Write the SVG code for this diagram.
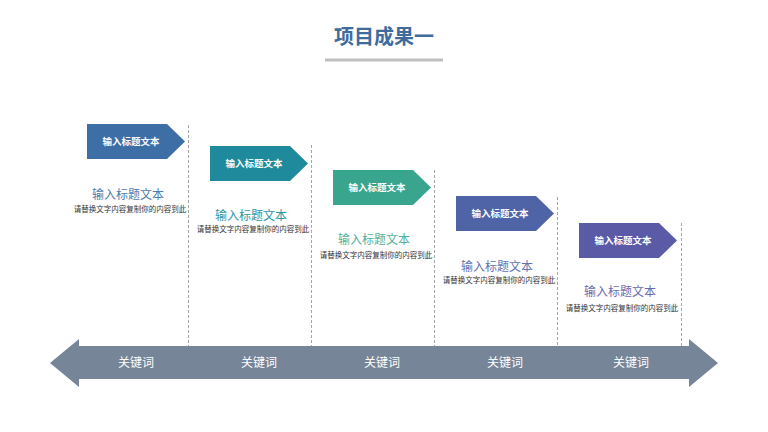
<svg xmlns="http://www.w3.org/2000/svg" width="768" height="432" viewBox="0 0 768 432">
<style>
text{font-family:"Noto Sans CJK SC","Noto Sans",sans-serif;text-anchor:middle}
.title{font-size:20px;font-weight:bold;fill:#3F6B9E}
.lbl{font-size:9.5px;font-weight:bold;fill:#fff}
.sub{font-size:12px}
.desc{font-size:7.5px;fill:#333}
.kw{font-size:12px;fill:#fff}
.dash{stroke:#A6A6A6;stroke-width:1;stroke-dasharray:3 2;fill:none}
</style>
<defs>
<polygon id="tag" points="0,0 80,0 98,17.5 80,35 0,35"/>
</defs>
<rect width="768" height="432" fill="#fff"/>
<g id="title">
<text class="title" x="384" y="44">项目成果一</text>
<rect x="325" y="58.5" width="118" height="3" fill="#BFBFBF"/>
</g>
<g id="connectors">
<line class="dash" x1="188.5" y1="125" x2="188.5" y2="346"/>
<line class="dash" x1="311.5" y1="145" x2="311.5" y2="346"/>
<line class="dash" x1="434.5" y1="170" x2="434.5" y2="346"/>
<line class="dash" x1="557.5" y1="197" x2="557.5" y2="346"/>
<line class="dash" x1="681.5" y1="223" x2="681.5" y2="346"/>
</g>
<g id="timeline">
<polygon points="50,363 79,339 79,346 689,346 689,339 718,363 689,387 689,379 79,379 79,387" fill="#768598"/>
<text class="kw" x="136" y="367">关键词</text>
<text class="kw" x="259" y="367">关键词</text>
<text class="kw" x="382" y="367">关键词</text>
<text class="kw" x="505" y="367">关键词</text>
<text class="kw" x="631" y="367">关键词</text>
</g>
<g id="node1">
<use href="#tag" x="87" y="124" fill="#3D6EA6"/>
<text class="lbl" x="131" y="145">输入标题文本</text>
<text class="sub" x="128" y="199" fill="#4C7BB0">输入标题文本</text>
<text class="desc" x="130" y="212">请替换文字内容复制你的内容到此</text>
</g>
<g id="node2">
<use href="#tag" x="210" y="146" fill="#1F8A9B"/>
<text class="lbl" x="254" y="167">输入标题文本</text>
<text class="sub" x="251" y="220" fill="#2C97A7">输入标题文本</text>
<text class="desc" x="253" y="232">请替换文字内容复制你的内容到此</text>
</g>
<g id="node3">
<use href="#tag" x="333" y="170" fill="#3AA58E"/>
<text class="lbl" x="377" y="191">输入标题文本</text>
<text class="sub" x="374" y="244" fill="#4DB39B">输入标题文本</text>
<text class="desc" x="376" y="258">请替换文字内容复制你的内容到此</text>
</g>
<g id="node4">
<use href="#tag" x="456" y="196" fill="#4E64A6"/>
<text class="lbl" x="500" y="217">输入标题文本</text>
<text class="sub" x="497" y="271" fill="#5F72AF">输入标题文本</text>
<text class="desc" x="499" y="283">请替换文字内容复制你的内容到此</text>
</g>
<g id="node5">
<use href="#tag" x="579" y="223" fill="#5A5AA6"/>
<text class="lbl" x="623" y="244">输入标题文本</text>
<text class="sub" x="620" y="296" fill="#6A6AAF">输入标题文本</text>
<text class="desc" x="622" y="311">请替换文字内容复制你的内容到此</text>
</g>
</svg>
